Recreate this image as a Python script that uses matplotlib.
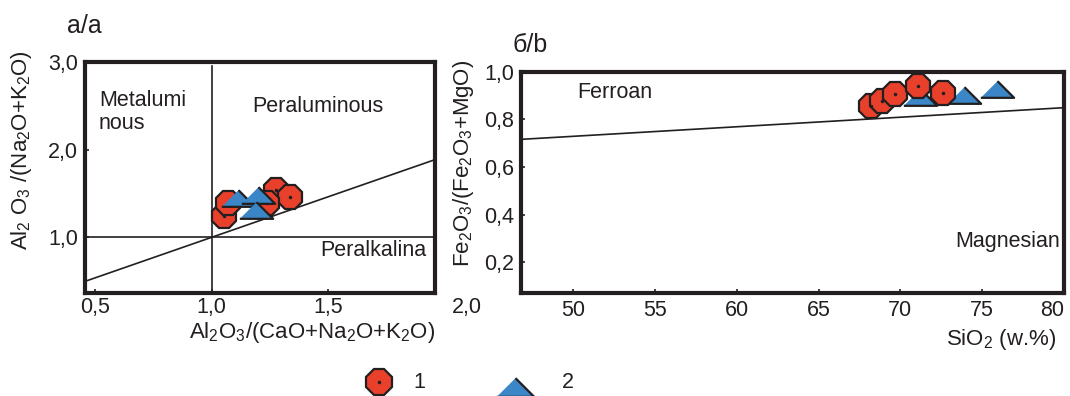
import matplotlib
matplotlib.use("Agg")
import matplotlib.pyplot as plt

plt.rcParams['font.family'] = ['Liberation Sans', 'DejaVu Sans']
plt.rcParams['mathtext.fontset'] = 'custom'
plt.rcParams['mathtext.rm'] = 'Liberation Sans'
plt.rcParams['mathtext.it'] = 'Liberation Sans:italic'
plt.rcParams['mathtext.default'] = 'rm'

# panel a: A/NK vs A/CNK
asi_circ = [1.053, 1.069, 1.276, 1.336, 1.236]
ank_circ = [1.239, 1.395, 1.543, 1.456, 1.392]
asi_tri = [1.113, 1.199, 1.189]
ank_tri = [1.452, 1.486, 1.316]

# panel b: Fe-number vs SiO2
sio2_circ = [68.2, 68.9, 69.7, 71.1, 72.6]
fe_circ = [0.856, 0.877, 0.906, 0.940, 0.911]
sio2_tri = [71.2, 73.9, 75.9]
fe_tri = [0.894, 0.902, 0.927]

# boundary lines
asi_line = [0.457, 1.958]
ank_line = [0.499, 1.885]
sio2_line = [46.8, 80.0]
fe_line = [0.716, 0.849]

a_xticks = [0.5, 1.0, 1.5]
a_xlabels = ['0,5', '1,0', '1,5']
a_yticks = [1.0, 2.0, 3.0]
a_ylabels = ['1,0', '2,0', '3,0']
b_xticks = [50, 55, 60, 65, 70, 75, 80]
b_yticks = [0.2, 0.4, 0.6, 0.8, 1.0]
b_ylabels = ['0,2', '0,4', '0,6', '0,8', '1,0']

RED = '#e8402a'
BLUE = '#3a86c6'
INK = '#231f20'
W, H = 1070, 396
tri = [(-1, -0.5), (1, -0.5), (0, 0.5)]

fig = plt.figure(figsize=(W / 100, H / 100), dpi=100)


def px(x, y):
    return x / W, 1 - y / H


def style(ax):
    for s in ax.spines.values():
        s.set_linewidth(3.0)
        s.set_color(INK)
    ax.tick_params(direction='in', length=3, width=1.2, color=INK,
                   labelsize=15.5, pad=5, labelcolor=INK)


def circles(ax, x, y, z):
    ax.plot(x, y, ls='none', marker='8', ms=19, mfc=RED, mec=INK, mew=1.6,
            zorder=z, clip_on=False)
    ax.plot(x, y, ls='none', marker='o', ms=1.5, color=INK, zorder=z + 0.1,
            clip_on=False)


def triangles(ax, x, y, z):
    ax.plot(x, y, ls='none', marker=tri, ms=24, mfc=BLUE, mec=INK, mew=1.6,
            zorder=z, clip_on=False)


# ---- panel a ----
ax1 = fig.add_axes([85 / W, 1 - 292.7 / H, 350 / W, 231 / H])
style(ax1)
ax1.tick_params(axis='x', pad=3)
ax1.set_xlim(0.457, 1.958)
ax1.set_ylim(0.37, 3.0)
ax1.plot([1.0, 1.0], [0.37, 2.95], color=INK, lw=1.2, zorder=2)
ax1.plot([0.457, 1.958], [1.0, 1.0], color=INK, lw=1.2, zorder=2)
ax1.plot(asi_line, ank_line, color=INK, lw=1.2, zorder=2)
circles(ax1, asi_circ, ank_circ, 3)
triangles(ax1, asi_tri, ank_tri, 4)
ax1.set_xticks(a_xticks, a_xlabels)
ax1.set_yticks(a_yticks, a_ylabels)

# ---- panel b ----
ax2 = fig.add_axes([520.7 / W, 1 - 293.3 / H, 543.3 / W, 221.6 / H])
style(ax2)
ax2.set_xlim(46.8, 80)
ax2.set_ylim(0.07, 1.0)
ax2.plot(sio2_line, fe_line, color=INK, lw=1.2, zorder=2)
triangles(ax2, sio2_tri, fe_tri, 3)
circles(ax2, sio2_circ, fe_circ, 4)
ax2.set_xticks(b_xticks, [str(v) for v in b_xticks])
ax2.set_yticks(b_yticks, b_ylabels)
ax2.get_xticklabels()[-1].set_horizontalalignment('right')

# ---- texts ----
kw = dict(fontsize=15.5, color=INK)
lab = dict(fontsize=16, color=INK)
fig.text(*px(67, 26), 'a/a', fontsize=18, va='center', color=INK)
fig.text(*px(513, 45), 'б/b', fontsize=18, va='center', color=INK)
fig.text(*px(99, 112), 'Metalumi\nnous', va='center', linespacing=1.15, **kw)
fig.text(*px(252, 106), 'Peraluminous', va='center', **kw)
fig.text(*px(320, 251), 'Peralkalina', va='center', **kw)
fig.text(*px(577, 93), 'Ferroan', va='center', **kw)
fig.text(*px(1060, 241), 'Magnesian', va='center', ha='right', **kw)
fig.text(*px(482, 307), '2,0', va='center', ha='right', **kw)
fig.text(*px(22, 150), r'Al$_2$ O$_3$ /(Na$_2$O+K$_2$O)', rotation=90,
         va='center', ha='center', **lab)
fig.text(*px(464, 163), r'Fe$_2$O$_3$/(Fe$_2$O$_3$+MgO)', rotation=90,
         va='center', ha='center', **lab)
fig.text(*px(435, 338), r'Al$_2$O$_3$/(CaO+Na$_2$O+K$_2$O)', va='baseline',
         ha='right', **lab)
fig.text(*px(1056, 345), r'SiO$_2$ (w.%)', va='baseline', ha='right', **lab)

# ---- legend keys ----
lg = fig.add_axes([0, 0, 1, 1])
lg.set_xlim(0, W)
lg.set_ylim(H, 0)
lg.axis('off')
lg.plot([379], [382], ls='none', marker='8', ms=19.5, mfc=RED, mec=INK, mew=1.6)
lg.plot([379], [382], ls='none', marker='o', ms=1.5, color=INK)
lg.plot([515], [387], ls='none', marker=tri, ms=27, mfc=BLUE, mec=INK,
        mew=1.6, clip_on=True)
lg.text(413, 383, '1', va='center', **kw)
lg.text(562, 383, '2', va='center', **kw)

fig.savefig('out.png', dpi=100)
